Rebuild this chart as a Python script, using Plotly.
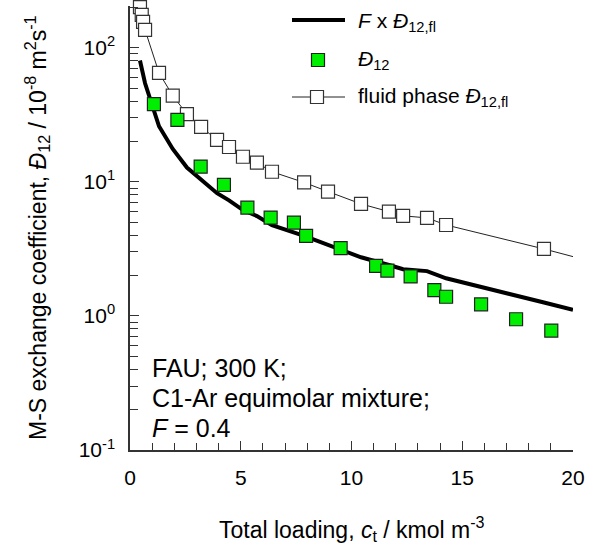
import plotly.graph_objects as go

# ---------------- data ----------------
fluid_x = [0.45, 0.53, 0.59, 0.68, 1.31, 1.93, 2.57, 3.21, 3.93, 4.47, 5.10, 5.73,
           6.41, 7.86, 8.94, 10.43, 11.69, 12.33, 13.41, 14.27, 18.69]
fluid_y = [201, 176, 156, 136, 65, 44, 32, 25.7, 20.6, 18.2, 15.4, 13.9,
           11.9, 9.9, 8.47, 6.85, 6.0, 5.58, 5.39, 4.77, 3.16]
fluid_tail_x = [18.69, 20.0]
fluid_tail_y = [3.16, 2.77]

fxd_x = [0.45, 0.53, 0.59, 0.68, 1.31, 1.93, 2.57, 3.21, 3.93, 4.47, 5.10, 5.73,
         6.41, 7.86, 8.94, 10.43, 11.69, 12.33, 13.41, 14.27, 18.69, 20.0]
fxd_y = [80.4, 70.4, 62.4, 54.4, 26.0, 17.6, 12.8, 10.3, 8.24, 7.28, 6.16, 5.56,
         4.76, 3.96, 3.39, 2.74, 2.40, 2.23, 2.16, 1.91, 1.26, 1.11]

d12_x = [1.08, 2.14, 3.19, 4.24, 5.30, 6.35, 7.40, 7.95, 9.51, 11.11, 11.62,
         12.67, 13.74, 14.27, 15.85, 17.43, 19.02]
d12_y = [38.0, 29.0, 13.0, 9.5, 6.43, 5.42, 4.97, 3.95, 3.20, 2.36, 2.18,
         1.97, 1.56, 1.39, 1.22, 0.945, 0.777]

y_tickvals = [0.1, 1, 10, 100]
y_ticktext = ["10<sup>-1</sup>", "10<sup>0</sup>", "10<sup>1</sup>", "10<sup>2</sup>"]
y_minorvals = [m * d for d in [0.1, 1, 10, 100] for m in range(2, 10)]
x_tickvals = [0, 5, 10, 15, 20]
x_ticktext = ["0", "5", "10", "15", "20"]

FONT = "Liberation Sans, Arial, sans-serif"
GREEN = "#00EE00"

# ---------------- figure ----------------
fig = go.Figure()

fig.add_trace(go.Scatter(x=fluid_tail_x, y=fluid_tail_y, mode="lines",
                         line=dict(color="#222222", width=1), showlegend=False,
                         cliponaxis=False))
fig.add_trace(go.Scatter(x=fluid_x, y=fluid_y, mode="lines+markers",
                         line=dict(color="#222222", width=1),
                         marker=dict(symbol="square", size=13, color="white",
                                     line=dict(color="#333333", width=1.2)),
                         showlegend=False, cliponaxis=False))
fig.add_trace(go.Scatter(x=fxd_x, y=fxd_y, mode="lines",
                         line=dict(color="black", width=4), showlegend=False,
                         cliponaxis=False))
fig.add_trace(go.Scatter(x=d12_x, y=d12_y, mode="markers",
                         marker=dict(symbol="square", size=13, color=GREEN,
                                     line=dict(color="#222222", width=1.2)),
                         showlegend=False, cliponaxis=False))

W, H = 601, 547
L, R, T, B = 130, 28, 6, 97
pw, ph = W - L - R, H - T - B


def px(x):
    return (x - L) / pw


def py(y):
    return (H - B - y) / ph


shapes = []
annotations = []

# manual legend
shapes.append(dict(type="line", xref="paper", yref="paper",
                   x0=px(292), x1=px(345), y0=py(20), y1=py(20),
                   line=dict(color="black", width=4)))
shapes.append(dict(type="rect", xref="paper", yref="paper",
                   x0=px(318 - 6.5), x1=px(318 + 6.5), y0=py(60 + 6.5), y1=py(60 - 6.5),
                   fillcolor=GREEN, line=dict(color="#222222", width=1.2)))
shapes.append(dict(type="line", xref="paper", yref="paper",
                   x0=px(292), x1=px(345), y0=py(97), y1=py(97),
                   line=dict(color="#222222", width=1)))
shapes.append(dict(type="rect", xref="paper", yref="paper",
                   x0=px(317 - 6.5), x1=px(317 + 6.5), y0=py(97 + 6.5), y1=py(97 - 6.5),
                   fillcolor="white", line=dict(color="#333333", width=1.2)))

leg_font = dict(family=FONT, size=21, color="black")
for txt, yc in [("<i>F</i> x <i>Đ</i><sub>12,fl</sub>", 22),
                ("<i>Đ</i><sub>12</sub>", 60),
                ("fluid phase <i>Đ</i><sub>12,fl</sub>", 97)]:
    annotations.append(dict(text=txt, xref="paper", yref="paper", x=px(356), y=py(yc),
                            xanchor="left", yanchor="middle", showarrow=False,
                            font=leg_font))

# condition text
info_font = dict(family=FONT, size=25, color="black")
for txt, yc in [("FAU; 300 K;", 368), ("C1-Ar equimolar mixture;", 398),
                ("<i>F</i> = 0.4", 428)]:
    annotations.append(dict(text=txt, xref="paper", yref="paper", x=px(150), y=py(yc),
                            xanchor="left", yanchor="middle", showarrow=False,
                            font=info_font))

# axis titles
annotations.append(dict(text="M-S exchange coefficient, <i>Đ</i><sub>12</sub> / 10<sup>-8</sup> m<sup>2</sup>s<sup>-1</sup>",
                        xref="paper", yref="paper", x=px(37), y=py(228), textangle=-90,
                        xanchor="center", yanchor="middle", showarrow=False,
                        font=dict(family=FONT, size=23, color="black")))
annotations.append(dict(text="Total loading, <i>c</i><sub>t</sub> / kmol m<sup>-3</sup>",
                        xref="paper", yref="paper", x=px(352), y=py(529),
                        xanchor="center", yanchor="middle", showarrow=False,
                        font=dict(family=FONT, size=23, color="black")))

axis_color = "#333333"
fig.update_layout(
    width=W, height=H,
    margin=dict(l=L, r=R, t=T, b=B, pad=0),
    paper_bgcolor="white", plot_bgcolor="white",
    font=dict(family=FONT, size=21, color="black"),
    shapes=shapes, annotations=annotations,
    showlegend=False,
)
fig.update_xaxes(range=[0, 20], showgrid=False, zeroline=False, automargin=False,
                 showline=True, linecolor=axis_color, linewidth=1.5,
                 ticks="inside", ticklen=9, tickcolor=axis_color, tickwidth=1,
                 tickmode="array", tickvals=x_tickvals, ticktext=x_ticktext,
                 ticklabelstandoff=8,
                 tickfont=dict(family=FONT, size=21, color="black"),
                 minor=dict(ticks="inside", ticklen=7, dtick=1, tick0=0,
                            tickcolor=axis_color, showgrid=False))
fig.update_yaxes(type="log", range=[-1, 2.312], showgrid=False, zeroline=False,
                 automargin=False,
                 showline=True, linecolor=axis_color, linewidth=1.5,
                 ticks="inside", ticklen=9, tickcolor=axis_color, tickwidth=1,
                 tickmode="array", tickvals=y_tickvals, ticktext=y_ticktext,
                 ticklabelstandoff=9,
                 tickfont=dict(family=FONT, size=21, color="black"),
                 minor=dict(ticks="inside", ticklen=8, tickmode="array",
                            tickvals=y_minorvals, tickcolor=axis_color, showgrid=False))

fig.write_html("out.html", config={"displayModeBar": False},
               post_script="document.body.style.margin='0';document.body.style.padding='0';")
